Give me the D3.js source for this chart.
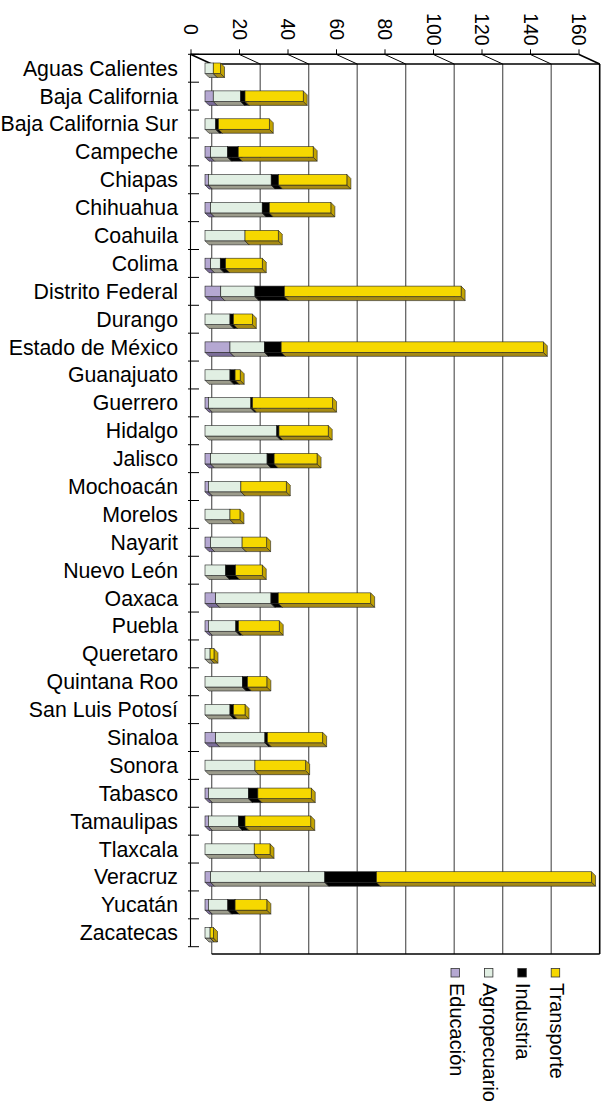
<!DOCTYPE html>
<html>
<head>
<meta charset="utf-8">
<script src="https://cdn.jsdelivr.net/npm/d3@7"></script>
<style>
  html, body { margin: 0; padding: 0; background: #fff; }
  svg { display: block; font-family: "Liberation Sans", Arial, sans-serif; }
</style>
</head>
<body>
<svg id="chart" width="610" height="1114"></svg>
<script>
// States, listed top to bottom
const categories = [
  "Aguas Calientes", "Baja California", "Baja California Sur", "Campeche", "Chiapas",
  "Chihuahua", "Coahuila", "Colima", "Distrito Federal", "Durango", "Estado de México",
  "Guanajuato", "Guerrero", "Hidalgo", "Jalisco", "Mochoacán", "Morelos", "Nayarit",
  "Nuevo León", "Oaxaca", "Puebla", "Queretaro", "Quintana Roo", "San Luis Potosí",
  "Sinaloa", "Sonora", "Tabasco", "Tamaulipas", "Tlaxcala", "Veracruz", "Yucatán", "Zacatecas"
];

// Stacked series values, one entry per state
const educacion    = [0, 3.4, 0, 2.3, 1.4, 2.3, 0, 2.3, 6.5, 0, 10.3, 0, 1.4, 0, 2.3, 1.4, 0, 2.3, 0, 4.4, 1.4, 0, 0, 0, 4.4, 0, 1.4, 1.4, 0, 2.3, 1.4, 0];
const agropecuario = [3.4, 11.3, 4.4, 7.0, 25.9, 21.3, 16.5, 4.0, 14.1, 10.3, 14.2, 10.3, 17.5, 29.6, 23.3, 13.4, 10.3, 13.0, 8.5, 22.8, 11.3, 2.1, 15.4, 10.3, 20.3, 20.6, 16.5, 12.4, 20.3, 47.1, 8.0, 2.1];
const industria    = [0, 1.8, 1.1, 4.4, 3.0, 2.9, 0, 2.2, 12.1, 1.4, 6.9, 2.1, 0.7, 0.9, 2.9, 0, 0, 0, 4.1, 3.0, 1.1, 0, 2.1, 1.4, 1.0, 0, 3.9, 2.7, 0, 21.3, 3.0, 0];
const transporte   = [3.0, 24.0, 21.0, 30.9, 28.2, 25.4, 13.7, 15.1, 72.9, 7.8, 108.1, 2.1, 33.0, 20.3, 17.7, 18.7, 4.1, 10.1, 11.0, 38.1, 16.8, 1.6, 8.0, 4.8, 22.8, 20.9, 22.0, 27.1, 6.5, 88.7, 13.1, 1.4];

const seriesNames = ["Educación", "Agropecuario", "Industria", "Transporte"];
const seriesValues = [educacion, agropecuario, industria, transporte];
const tickValues = [0, 20, 40, 60, 80, 100, 120, 140, 160];

// Face colours: front, lower side, end cap
const faceFront = ["#b5a8d2", "#e1efe3", "#000000", "#f6d800"];
const faceSide  = ["#7b6d98", "#9c9c8c", "#000000", "#a68a14"];
const faceCap   = ["#8f80ad", "#b0b0a2", "#000000", "#c4a400"];

const svg = d3.select("#chart");

// Plot geometry: back plane, front plane, and the plane the bars sit on
const plotTop = 54.3, plotBottom = 946.7, frontBottom = 954;
const xBack  = d3.scaleLinear().domain([0, 160]).range([190.5, 578.5]);
const xFront = d3.scaleLinear().domain([0, 160]).range([211.7, 599.7]);
const xBar   = d3.scaleLinear().domain([0, 160]).range([205, 593]);
const depthDy = 9.7;

const y = d3.scaleBand().domain(categories).range([plotTop, plotBottom]).padding(0);

// Vertical gridlines on the front plane
svg.append("g")
  .selectAll("line")
  .data(tickValues)
  .join("line")
  .attr("x1", d => xFront(d)).attr("x2", d => xFront(d))
  .attr("y1", plotTop + depthDy).attr("y2", frontBottom)
  .attr("stroke", d => d === 160 ? "#000" : "#606060")
  .attr("stroke-width", d => d === 160 ? 1.6 : 1.25);

// Bottom edge of the plot
svg.append("line")
  .attr("x1", xFront(0)).attr("x2", xFront(160))
  .attr("y1", frontBottom).attr("y2", frontBottom)
  .attr("stroke", "#000").attr("stroke-width", 1.6);

// Top frame: back edge, front edge and the depth lines at each tick
const frame = svg.append("g");
frame.append("line")
  .attr("x1", xBack(0)).attr("x2", xBack(160))
  .attr("y1", plotTop).attr("y2", plotTop)
  .attr("stroke", "#000").attr("stroke-width", 1.6);
frame.append("line")
  .attr("x1", xFront(0)).attr("x2", xFront(160))
  .attr("y1", plotTop + depthDy).attr("y2", plotTop + depthDy)
  .attr("stroke", "#000").attr("stroke-width", 1.6);
frame.selectAll("line.depth")
  .data(tickValues)
  .join("line")
  .attr("class", "depth")
  .attr("x1", d => xBack(d)).attr("y1", plotTop)
  .attr("x2", d => xFront(d)).attr("y2", plotTop + depthDy)
  .attr("stroke", "#000")
  .attr("stroke-width", d => (d === 0 || d === 160) ? 1.6 : 1);

// Value axis along the top, labels turned a quarter
const xAxis = svg.append("g")
  .attr("transform", `translate(0,${plotTop})`)
  .call(d3.axisTop(xBack).tickValues(tickValues).tickSize(5).tickSizeOuter(0));
xAxis.select(".domain").remove();
xAxis.selectAll(".tick line").attr("stroke", "#000").attr("stroke-width", 1);
xAxis.selectAll(".tick text")
  .attr("y", 0).attr("x", 0)
  .attr("dy", "0.35em")
  .attr("transform", "translate(0,-25) rotate(90)")
  .attr("text-anchor", "middle")
  .attr("fill", "#000")
  .style("font-size", "19.5px")
  .style("font-family", "'Liberation Sans', Arial, sans-serif");

// Category axis line and boundary ticks
svg.append("line")
  .attr("x1", xBack(0)).attr("x2", xBack(0))
  .attr("y1", plotTop).attr("y2", plotBottom)
  .attr("stroke", "#000").attr("stroke-width", 1.1);
const boundaries = categories.map(c => y(c) + y.bandwidth()).concat([plotTop]);
svg.append("g")
  .selectAll("line")
  .data(boundaries)
  .join("line")
  .attr("x1", 188).attr("x2", 199)
  .attr("y1", d => d).attr("y2", d => d)
  .attr("stroke", "#000").attr("stroke-width", 1);

// Category labels
svg.append("g")
  .selectAll("text")
  .data(categories)
  .join("text")
  .attr("x", 178)
  .attr("y", d => y(d) + y.bandwidth() / 2)
  .attr("dy", "0.35em")
  .attr("text-anchor", "end")
  .style("font-size", "21.3px")
  .attr("fill", "#000")
  .text(d => d);

// Stacked 3D bars
const barH = 10.5, dd = 4;
const rows = categories.map((c, i) => {
  let acc = 0;
  const segs = [];
  seriesValues.forEach((vals, s) => {
    const v = vals[i];
    if (v > 0) {
      segs.push({ s, x0: acc, x1: acc + v });
      acc += v;
    }
  });
  return { c, segs };
});

const barG = svg.append("g");
rows.forEach(row => {
  const yc = y(row.c) + y.bandwidth() / 2;
  const yt = yc - barH / 2, yb = yc + barH / 2;
  const g = barG.append("g");
  row.segs.forEach(seg => {
    const a = xBar(seg.x0), b = xBar(seg.x1);
    // lower side face
    g.append("polygon")
      .attr("points", [[a, yb], [b, yb], [b + dd, yb + dd], [a + dd, yb + dd]].join(" "))
      .attr("fill", faceSide[seg.s])
      .attr("stroke", "#222").attr("stroke-width", 0.6).attr("stroke-linejoin", "round");
    // end cap
    g.append("polygon")
      .attr("points", [[b, yt], [b + dd, yt + dd], [b + dd, yb + dd], [b, yb]].join(" "))
      .attr("fill", faceCap[seg.s])
      .attr("stroke", "#222").attr("stroke-width", 0.6).attr("stroke-linejoin", "round");
    // front face
    g.append("rect")
      .attr("x", a).attr("y", yt)
      .attr("width", b - a).attr("height", barH)
      .attr("fill", faceFront[seg.s])
      .attr("stroke", "#222").attr("stroke-width", 0.6);
  });
});

// Legend
const legend = svg.append("g")
  .selectAll("g")
  .data(seriesNames)
  .join("g")
  .attr("transform", (d, i) => `translate(${451 + i * 33.4},968.5)`);
legend.append("rect")
  .attr("width", 8.5).attr("height", 8.5)
  .attr("fill", (d, i) => faceFront[i])
  .attr("stroke", "#333").attr("stroke-width", 0.8);
legend.append("text")
  .attr("transform", "translate(-1.5,14.5) rotate(90)")
  .attr("text-anchor", "start")
  .style("font-size", "20px")
  .attr("fill", "#000")
  .text(d => d);
</script>
</body>
</html>
